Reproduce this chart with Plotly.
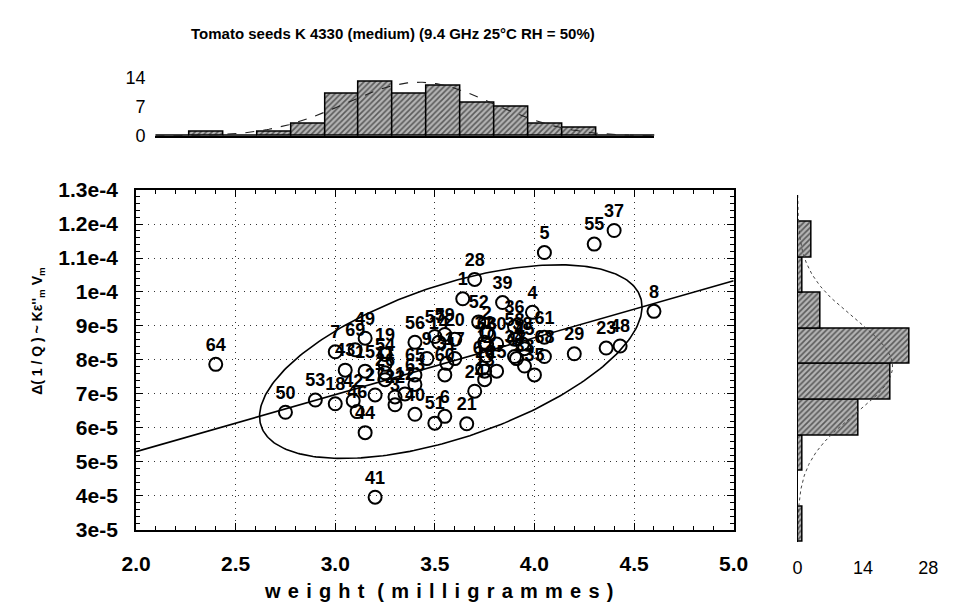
import numpy as np
import plotly.graph_objects as go

W, H = 953, 613

# ---------------- data ----------------
point_labels = ["64", "50", "53", "18", "42", "46", "44", "41", "7", "69", "49", "43", "15", "19", "54", "11",
                "26", "27", "22", "3", "12", "40", "65", "63", "56", "57", "14", "9", "60", "31", "17", "59",
                "51", "6", "21", "52", "20", "24", "16", "13", "25", "32", "1", "28", "2", "66", "10", "67",
                "30", "39", "4", "36", "58", "34", "38", "45", "33", "35", "61", "68", "47", "29", "23", "48",
                "8", "5", "55", "37"]
weight = [2.40, 2.75, 2.90, 3.00, 3.09, 3.11, 3.15, 3.20, 3.00, 3.10, 3.15, 3.05, 3.15, 3.25, 3.25, 3.25,
          3.25, 3.20, 3.30, 3.30, 3.35, 3.40, 3.40, 3.40, 3.40, 3.50, 3.52, 3.46, 3.55, 3.56, 3.60, 3.55,
          3.50, 3.55, 3.66, 3.72, 3.60, 3.70, 3.75, 3.75, 3.81, 3.75, 3.64, 3.70, 3.76, 3.76, 3.76, 3.74,
          3.81, 3.84, 3.99, 3.90, 3.90, 3.90, 3.94, 3.95, 3.95, 4.00, 4.05, 4.05, 3.91, 4.20, 4.36, 4.43,
          4.60, 4.05, 4.30, 4.40]
dq_e5 = [7.87, 6.46, 6.82, 6.71, 6.80, 6.48, 5.86, 3.96, 8.24, 8.30, 8.64, 7.70, 7.67, 8.16, 7.87, 7.62,
         7.42, 6.97, 6.91, 6.68, 7.00, 6.40, 7.56, 7.28, 8.52, 8.69, 8.52, 8.04, 7.56, 7.90, 8.04, 8.75,
         6.14, 6.34, 6.12, 9.12, 8.61, 7.08, 7.67, 7.42, 7.67, 8.52, 9.80, 10.37, 8.81, 8.47, 8.13, 7.76,
         8.47, 9.69, 9.40, 8.98, 8.61, 8.10, 8.47, 8.33, 7.82, 7.56, 8.67, 8.10, 8.04, 8.18, 8.35, 8.41,
         9.43, 11.16, 11.41, 11.81]
dq = [v * 1e-5 for v in dq_e5]

# top histogram (weight) counts per bin, left -> right
top_counts = [0, 1, 0, 1, 3, 10, 13, 10, 12, 8, 7, 3, 2, 0, 0]
# right histogram (delta 1/Q) counts per bin, bottom -> top
right_counts = [1, 0, 1, 13, 20, 24, 5, 1, 3]

# confidence ellipse / regression parameters
ELL_CX, ELL_CY = 3.58, 7.95e-5
ELL_RX, ELL_RY = 0.96, 2.85e-5
ELL_RHO = 0.565

x_ticks = [2.0, 2.5, 3.0, 3.5, 4.0, 4.5, 5.0]
x_ticktext = ["2.0", "2.5", "3.0", "3.5", "4.0", "4.5", "5.0"]
y_ticks = [3e-5, 4e-5, 5e-5, 6e-5, 7e-5, 8e-5, 9e-5, 1e-4, 1.1e-4, 1.2e-4, 1.3e-4]
y_ticktext = ["3e-5", "4e-5", "5e-5", "6e-5", "7e-5", "8e-5", "9e-5", "1e-4", "1.1e-4", "1.2e-4", "1.3e-4"]

FONT = "Liberation Sans, Arial, sans-serif"


def px(x):
    return x / W


def py(y):
    return 1 - y / H


fig = go.Figure()

# ---------------- main scatter ----------------
t = np.linspace(0, 2 * np.pi, 300)
ex = ELL_CX + ELL_RX * np.cos(t)
ey = ELL_CY + ELL_RY * (ELL_RHO * np.cos(t) + np.sqrt(1 - ELL_RHO ** 2) * np.sin(t))
fig.add_trace(go.Scatter(x=ex, y=ey, mode="lines", line=dict(color="black", width=1.6),
                         hoverinfo="skip", showlegend=False))

slope = ELL_RHO * ELL_RY / ELL_RX
lx = np.array([2.0, 5.0])
ly = ELL_CY + slope * (lx - ELL_CX)
fig.add_trace(go.Scatter(x=lx, y=ly, mode="lines", line=dict(color="black", width=1.6),
                         hoverinfo="skip", showlegend=False))

fig.add_trace(go.Scatter(
    x=weight, y=dq, mode="markers+text", text=point_labels, textposition="top center",
    textfont=dict(family=FONT, size=18, color="black", weight="bold"),
    marker=dict(symbol="circle-open", size=13, color="black", line=dict(width=2)),
    showlegend=False, cliponaxis=False))

# ---------------- top histogram ----------------
nb_top = len(top_counts)
centers_top = np.arange(nb_top) + 0.5
fig.add_trace(go.Bar(
    x=centers_top, y=top_counts, width=1.0, xaxis="x2", yaxis="y2",
    marker=dict(color="#b4b4b4", line=dict(color="black", width=1.5),
                pattern=dict(shape="/", fgcolor="black", size=4, solidity=0.4, fillmode="overlay")),
    showlegend=False))
n_top = sum(top_counts)
mu_t = float(np.sum(centers_top * np.array(top_counts)) / n_top)
sd_t = float(np.sqrt(np.sum(np.array(top_counts) * (centers_top - mu_t) ** 2) / n_top))
xs = np.linspace(0, 14.71, 300)
fig.add_trace(go.Scatter(x=xs, y=n_top / (sd_t * np.sqrt(2 * np.pi)) * np.exp(-0.5 * ((xs - mu_t) / sd_t) ** 2),
                         xaxis="x2", yaxis="y2", mode="lines",
                         line=dict(color="#222", width=1.1, dash="dash"), showlegend=False))

# ---------------- right histogram ----------------
nb_r = len(right_counts)
centers_r = np.arange(nb_r) + 0.5
fig.add_trace(go.Bar(
    y=centers_r, x=right_counts, width=1.0, orientation="h", xaxis="x3", yaxis="y3",
    marker=dict(color="#b4b4b4", line=dict(color="black", width=1.5),
                pattern=dict(shape="/", fgcolor="black", size=4, solidity=0.4, fillmode="overlay")),
    showlegend=False))
n_r = sum(right_counts)
mu_r = float(np.sum(centers_r * np.array(right_counts)) / n_r)
sd_r = float(np.sqrt(np.sum(np.array(right_counts) * (centers_r - mu_r) ** 2) / n_r))
ys = np.linspace(0, 9.76, 300)
fig.add_trace(go.Scatter(y=ys, x=n_r / (sd_r * np.sqrt(2 * np.pi)) * np.exp(-0.5 * ((ys - mu_r) / sd_r) ** 2),
                         xaxis="x3", yaxis="y3", mode="lines",
                         line=dict(color="#444", width=1.0, dash="dot"), showlegend=False))

tickfont_main = dict(family=FONT, size=21, color="black", weight="bold")
GRID_DASH = "1px,5px"

fig.update_layout(
    width=W, height=H, margin=dict(l=0, r=0, t=0, b=0),
    paper_bgcolor="white", plot_bgcolor="white", showlegend=False, bargap=0,
    xaxis=dict(domain=[px(125), px(742)], range=[2, 5], tickvals=x_ticks, ticktext=x_ticktext,
               tickfont=tickfont_main, showline=True, linecolor="black", linewidth=2, mirror="ticks",
               ticks="inside", ticklen=7, tickcolor="black", tickwidth=1.2,
               showgrid=True, gridcolor="#333", griddash=GRID_DASH, gridwidth=1, zeroline=False,
               ticklabelstandoff=14,
               minor=dict(dtick=0.1, tick0=2, ticks="inside", ticklen=4, tickcolor="black", showgrid=False),
               anchor="y"),
    yaxis=dict(domain=[py(538), py(185)], range=[3e-5, 1.3e-4], tickvals=y_ticks, ticktext=y_ticktext,
               tickfont=tickfont_main, showline=True, linecolor="black", linewidth=2, mirror="ticks",
               ticks="inside", ticklen=7, tickcolor="black", tickwidth=1.2,
               showgrid=True, gridcolor="#333", griddash=GRID_DASH, gridwidth=1, zeroline=False,
               ticklabelstandoff=12,
               minor=dict(dtick=2e-6, tick0=3e-5, ticks="inside", ticklen=4, tickcolor="black", showgrid=False),
               anchor="x"),
    xaxis2=dict(domain=[px(145), px(660)], range=[0, 14.71], showline=True, linecolor="black", linewidth=1.5,
                showticklabels=False, ticks="", showgrid=False, zeroline=False, anchor="y2"),
    yaxis2=dict(domain=[py(129), py(60)], range=[0, 15.8], tickvals=[0, 7, 14], ticktext=["0", "7", "14"],
                tickfont=dict(family=FONT, size=18, color="black"), showline=False, ticks="",
                showgrid=False, zeroline=False, ticklabelstandoff=9, anchor="x2"),
    xaxis3=dict(domain=[px(808), px(943)], range=[0, 28], tickvals=[0, 14, 28], ticktext=["0", "14", "28"],
                tickfont=dict(family=FONT, size=18, color="black"), showline=False, ticks="",
                showgrid=False, zeroline=False, ticklabelstandoff=13, anchor="y3"),
    yaxis3=dict(domain=[py(551), py(190)], range=[0, 9.76], showline=True, linecolor="black", linewidth=1.2,
                showticklabels=False, ticks="", showgrid=False, zeroline=False, anchor="x3"),
)

fig.add_annotation(x=px(180), y=py(22), xref="paper", yref="paper", showarrow=False,
                   text="Tomato seeds K 4330 (medium) (9.4 GHz 25°C RH = 50%)",
                   font=dict(family=FONT, size=15, color="black", weight="bold"),
                   xanchor="left", yanchor="middle")
xtitle = " \u200a".join(list("weight")) + "  \u200a" + " \u200a".join(list("(milligrammes)"))
fig.add_annotation(x=px(437), y=py(602), xref="paper", yref="paper", showarrow=False,
                   text=xtitle,
                   font=dict(family=FONT, size=20, color="black", weight="bold"),
                   xanchor="center", yanchor="middle")
fig.add_annotation(x=px(23), y=py(331), xref="paper", yref="paper", showarrow=False, textangle=-90,
                   text="Δ( 1 / Q ) ~ Kε''<sub>m</sub> V<sub>m</sub>",
                   font=dict(family=FONT, size=14, color="black", weight="bold"),
                   xanchor="center", yanchor="middle")

fig.write_html("out.html")
